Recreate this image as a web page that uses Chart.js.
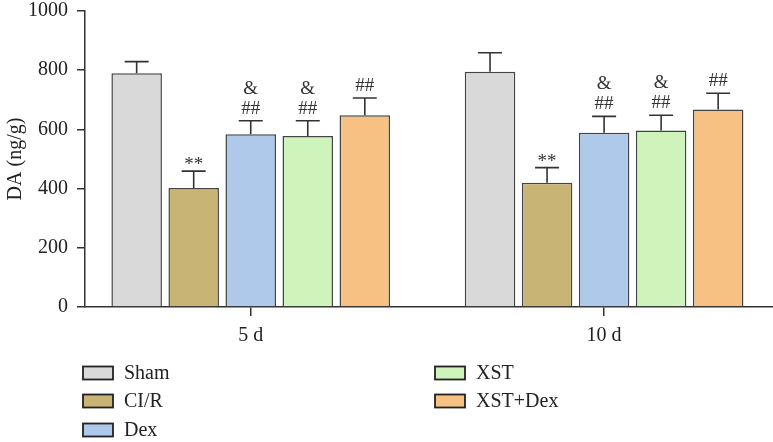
<!DOCTYPE html>
<html>
<head>
<meta charset="utf-8">
<script src="https://cdn.jsdelivr.net/npm/chart.js@4.4.0/dist/chart.umd.min.js"></script>
<style>
html,body{margin:0;padding:0;background:#fff;}
#wrap{width:773px;height:442px;position:relative;}
</style>
</head>
<body>
<div id="wrap"><canvas id="chart"></canvas></div>
<script>
/* DATA */
const categories = ["5 d", "10 d"];
const groups = ["Sham", "CI/R", "Dex", "XST", "XST+Dex"];
const colors = ["#d9d9d9", "#c8b576", "#aec9ea", "#cef3bb", "#f7c184"];

const sham = [790, 795];
const cir = [402, 420];
const dex = [584, 589];
const xst = [578, 596];
const xstDex = [648, 667];

const shamErr = [39, 64];
const cirErr = [57, 51];
const dexErr = [45, 55];
const xstErr = [51, 52];
const xstDexErr = [58, 55];

// significance marks, bottom line first
const shamMarks = [[], []];
const cirMarks = [["**"], ["**"]];
const dexMarks = [["##", "&"], ["##", "&"]];
const xstMarks = [["##", "&"], ["##", "&"]];
const xstDexMarks = [["##"], ["##"]];

const yTicks = [0, 200, 400, 600, 800, 1000];

const values = [sham, cir, dex, xst, xstDex];
const errors = [shamErr, cirErr, dexErr, xstErr, xstDexErr];
const marks = [shamMarks, cirMarks, dexMarks, xstMarks, xstDexMarks];

const FONT = "'Liberation Serif', 'Times New Roman', serif";
const INK = "#333";

/* ERROR BARS + MARKS */
const errorBars = {
    id: "errorBars",
    afterDatasetsDraw(chart){
        const ctx = chart.ctx;
        const yScale = chart.scales.y;
        ctx.save();
        chart.data.datasets.forEach((ds, di) => {
            const meta = chart.getDatasetMeta(di);
            meta.data.forEach((bar, i) => {
                const v = values[di][i];
                const yTop = yScale.getPixelForValue(v + errors[di][i]);
                const yBar = yScale.getPixelForValue(v);
                ctx.strokeStyle = INK;
                ctx.lineWidth = 1.6;
                ctx.beginPath();
                ctx.moveTo(bar.x, yBar);
                ctx.lineTo(bar.x, yTop);
                ctx.moveTo(bar.x - 12, yTop);
                ctx.lineTo(bar.x + 12, yTop);
                ctx.stroke();

                ctx.fillStyle = INK;
                ctx.font = "19px " + FONT;
                ctx.textAlign = "center";
                ctx.textBaseline = "alphabetic";
                let bottom = yTop - 7;
                marks[di][i].forEach(s => {
                    const m = ctx.measureText(s);
                    ctx.fillText(s, bar.x, bottom - m.actualBoundingBoxDescent);
                    bottom -= 20;
                });
            });
        });
        ctx.restore();
    }
};

/* LEGEND (two columns) */
const legendCols = {
    id: "legendCols",
    afterDraw(chart){
        const ctx = chart.ctx;
        const colX = [83, 435];
        const rowY = [373, 401, 430];
        ctx.save();
        chart.data.datasets.forEach((ds, i) => {
            const x = colX[i < 3 ? 0 : 1];
            const y = rowY[i < 3 ? i : i - 3];
            ctx.fillStyle = ds.backgroundColor;
            ctx.fillRect(x, y - 6.5, 30, 13);
            ctx.strokeStyle = "#222";
            ctx.lineWidth = 1.8;
            ctx.strokeRect(x, y - 6.5, 30, 13);
            ctx.fillStyle = "#222";
            ctx.font = "20px " + FONT;
            ctx.textAlign = "left";
            ctx.textBaseline = "middle";
            ctx.fillText(ds.label, x + 41, y + 1);
        });
        ctx.restore();
    }
};

new Chart(document.getElementById("chart"), {
    type: "bar",
    data: {
        datasets: groups.map((g, di) => ({
            label: g,
            data: categories.map((c, i) => ({x: i, y: values[di][i]})),
            backgroundColor: colors[di],
            borderColor: "#444",
            borderWidth: 1.5,
            categoryPercentage: 0.807,
            barPercentage: 0.886
        }))
    },
    options: {
        responsive: true,
        maintainAspectRatio: false,
        animation: false,
        layout: {padding: {top: 11, right: 0, bottom: 86, left: 0}},
        plugins: {legend: {display: false}, tooltip: {enabled: false}},
        scales: {
            x: {
                type: "linear",
                offset: false,
                min: -0.469,
                max: 1.478,
                afterBuildTicks: s => { s.ticks = categories.map((c, i) => ({value: i})); },
                ticks: {
                    autoSkip: false,
                    callback: v => categories[v],
                    color: "#222",
                    font: {family: FONT, size: 20, lineHeight: 1.2},
                    padding: 8,
                    maxRotation: 0
                },
                grid: {offset: false, drawOnChartArea: false, drawTicks: true, tickLength: 9, color: INK, lineWidth: 1.5},
                border: {display: true, color: INK, width: 1.5}
            },
            y: {
                min: 0,
                max: 1000,
                afterBuildTicks: s => { s.ticks = yTicks.map(v => ({value: v})); },
                afterFit: s => { s.width = 85; },
                ticks: {
                    callback: v => String(v),
                    color: "#222",
                    font: {family: FONT, size: 20, lineHeight: 0.2},
                    padding: 9
                },
                title: {
                    display: true,
                    text: "DA (ng/g)",
                    color: "#222",
                    font: {family: FONT, size: 20, lineHeight: 1.2},
                    padding: {top: 4, bottom: 0}
                },
                grid: {drawOnChartArea: false, drawTicks: true, tickLength: 8, color: INK, lineWidth: 1.5},
                border: {display: true, color: INK, width: 1.5}
            }
        }
    },
    plugins: [errorBars, legendCols]
});
</script>
</body>
</html>
